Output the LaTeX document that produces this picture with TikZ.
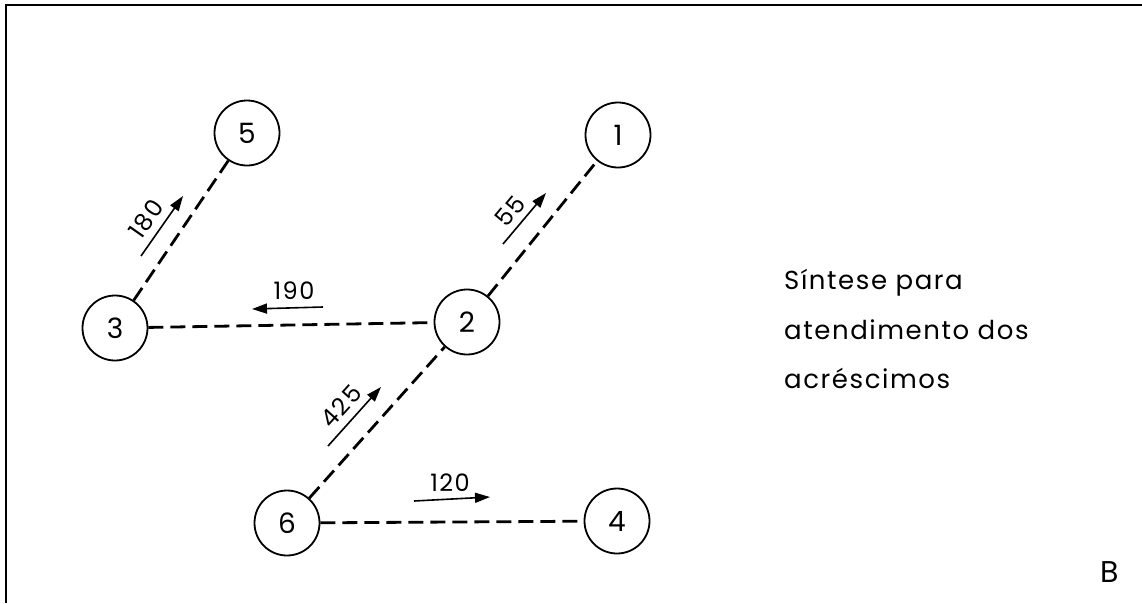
\documentclass[tikz,border=0pt]{standalone}
\usepackage{fontspec}
\setmainfont{Poppins}[LetterSpace=6]
\usetikzlibrary{arrows.meta}
\begin{document}
\begin{tikzpicture}[x=1pt,y=-1pt,
  vertex/.style={draw,circle,line width=1.8pt,minimum size=65pt,inner sep=0pt,font=\fontsize{28}{28}\selectfont},
  link/.style={line width=2.8pt,dash pattern=on 15pt off 7pt},
  flow/.style={line width=1.6pt,-{Triangle[length=15pt,width=10pt]}},
  qty/.style={font=\fontsize{24}{24}\selectfont,inner sep=0pt},
  note/.style={anchor=west,font=\fontsize{26}{26}\selectfont,inner sep=0pt}]
\useasboundingbox (0,0) rectangle (1142,603);
\draw[line width=2.2pt] (6,603) -- (6,5) -- (1142,5);
\node[vertex] (n5) at (247,133) {5};
\node[vertex] (n1) at (618,135) {1};
\node[vertex] (n3) at (115,328) {3};
\node[vertex] (n2) at (467,322) {2};
\node[vertex] (n6) at (287,523) {6};
\node[vertex] (n4) at (617,521) {4};
\draw[link] (n3) -- (n5);
\draw[link] (n2) -- (n1);
\draw[link] (n3) -- (n2);
\draw[link] (n6) -- (n2);
\draw[link] (n6) -- (n4);
\coordinate (a1s) at (141,256); \coordinate (a1e) at (183,196);
\coordinate (a2s) at (323,307); \coordinate (a2e) at (252,309);
\coordinate (a3s) at (503,244); \coordinate (a3e) at (546,193);
\coordinate (a4s) at (328,446); \coordinate (a4e) at (381,387);
\coordinate (a5s) at (414,501); \coordinate (a5e) at (490,497);
\draw[flow] (a1s) -- (a1e);
\draw[flow] (a2s) -- (a2e);
\draw[flow] (a3s) -- (a3e);
\draw[flow] (a4s) -- (a4e);
\draw[flow] (a5s) -- (a5e);
\node[qty,rotate=55] (l180) at (146,219) {180};
\node[qty] (l190) at (294,291) {190};
\node[qty,rotate=50] (l55) at (510,211) {55};
\node[qty,rotate=48] (l425) at (341,406) {425};
\node[qty] (l120) at (450,483) {120};
\node[note] (t1) at (784,283) {Síntese para};
\node[note] (t2) at (784,330) {atendimento dos};
\node[note] (t3) at (784,378) {acréscimos};
\node[font=\fontsize{30}{30}\selectfont] (b) at (1110,572) {B};
\end{tikzpicture}
\end{document}
